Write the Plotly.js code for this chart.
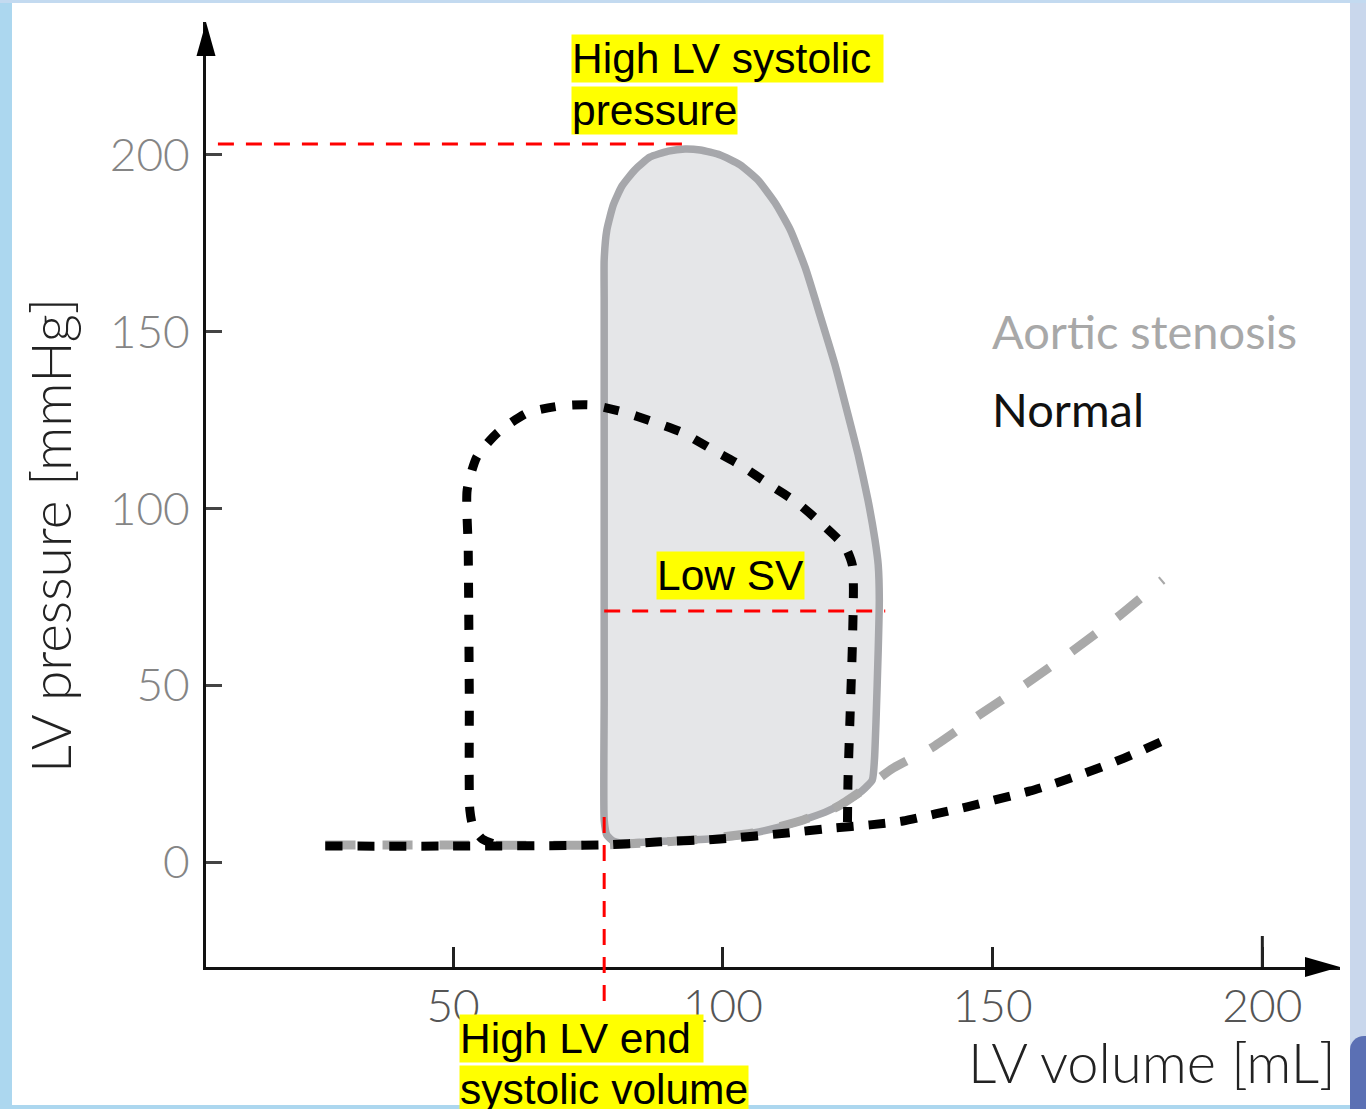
<!DOCTYPE html>
<html><head><meta charset="utf-8">
<script src="https://cdn.plot.ly/plotly-3.0.1.min.js"></script>
<style>
html,body{margin:0;padding:0;width:1366px;height:1109px;overflow:hidden;background:#acd7ef;}
#rightband{position:absolute;left:1350px;top:0;width:16px;height:1109px;background:#c9d7ec;}
#topband{position:absolute;left:0;top:0;width:1366px;height:3px;background:#c3daf0;}
#frame{position:absolute;left:12px;top:3px;width:1338px;height:1102px;background:#ffffff;}
#logo{position:absolute;left:1350px;top:1036px;width:16px;height:73px;background:#5b70b4;border-top-left-radius:14px;}
#chart{position:absolute;left:0;top:0;width:1366px;height:1109px;}
</style></head><body>
<div id="rightband"></div><div id="topband"></div><div id="frame"></div><div id="logo"></div><div id="chart"></div>
<script>
// ---- data (LV volume in mL, LV pressure in mmHg) ----
const xTickValues = [50, 100, 150, 200];
const yTickValues = [0, 50, 100, 150, 200];

// Aortic stenosis pressure-volume loop (grey, filled)
const asLoopVolume = [81.0, 86.5, 93.9, 99.5, 105.6, 110.6, 114.9, 119.0, 122.7, 125.8, 127.7, 128.1, 128.4, 128.8, 129.0, 128.8, 128.2, 126.9, 125.1, 123.2, 120.8, 118.0, 115.3, 112.5, 109.7, 106.5, 103.2, 99.5, 95.8, 93.0, 89.9, 86.5, 83.7, 81.3, 79.7, 78.5, 78.0, 78.0, 78.0, 78.0, 78.0, 78.5, 79.7, 81.0];
const asLoopPressure = [5.4, 5.7, 6.2, 6.8, 8.2, 9.9, 11.9, 14.1, 17.0, 20.1, 23.2, 28.9, 40.2, 60.0, 74.1, 84.0, 91.1, 102.4, 115.1, 126.5, 140.6, 154.7, 168.0, 178.8, 186.4, 192.9, 197.2, 200.0, 201.4, 201.7, 201.1, 199.4, 195.8, 191.2, 185.9, 178.8, 170.3, 159.0, 102.4, 45.8, 11.9, 7.6, 5.9, 5.4];

// Aortic stenosis end-diastolic pressure-volume relation (grey dashed)
const asEdpvrVolume = [26.3, 49.4, 78.0, 93.9, 105.6, 114.9, 121.2, 126.0, 131.6, 138.6, 147.5, 156.4, 165.1, 173.7, 181.5];
const asEdpvrPressure = [4.8, 4.8, 4.8, 6.2, 8.2, 11.9, 15.6, 20.4, 26.6, 32.2, 41.6, 50.6, 60.0, 69.9, 79.8];

// Normal pressure-volume loop (black dashed, open at the filling limb)
const normalLoopVolume = [123.1, 123.2, 123.6, 124.0, 124.2, 124.0, 122.7, 118.6, 113.8, 108.8, 103.2, 98.2, 92.6, 87.1, 81.5, 75.4, 69.8, 63.7, 58.2, 54.4, 52.6, 52.8, 53.0, 53.1, 53.7, 55.4, 58.2];
const normalLoopPressure = [11.3, 23.2, 42.2, 60.8, 77.8, 84.0, 89.1, 95.3, 101.6, 106.6, 112.3, 116.5, 121.4, 124.5, 127.3, 129.3, 129.0, 127.0, 121.4, 114.6, 105.2, 88.3, 45.8, 14.7, 9.9, 6.5, 4.8];

// Normal end-diastolic pressure-volume relation (black dashed)
const normalEdpvrVolume = [26.3, 49.4, 77.3, 88.4, 99.5, 111.9, 120.5, 127.3, 133.4, 139.4, 145.3, 151.0, 157.0, 162.9, 168.7, 174.4, 181.5];
const normalEdpvrPressure = [4.5, 4.5, 4.8, 5.7, 6.5, 8.2, 9.6, 10.5, 11.6, 13.6, 15.6, 17.8, 20.1, 22.9, 26.0, 29.4, 34.2];

// Red guide lines
const peakGuideVolume = [6.4, 92.6];
const peakGuidePressure = 203.1;
const svGuideVolume = [78.0, 130.1];
const svGuidePressure = 71.0;
const esvGuideVolume = 78.0;
const esvGuidePressure = [12.7, -39.3];

// ---- layout geometry ----
const xRange = [4.19, 214.4];
const yRange = [-29.7, 237.6];
const M = {l: 206, r: 26, t: 22, b: 142};
const FIG_W = 1366, FIG_H = 1109;
const PW = FIG_W - M.l - M.r, PH = FIG_H - M.t - M.b;
const pxX = px => (px - M.l) / PW;
const pxY = py => (M.t + PH - py) / PH;
const dataX = v => (v - xRange[0]) / (xRange[1] - xRange[0]);
const dataY = p => (p - yRange[0]) / (yRange[1] - yRange[0]);

const lato = 'Lato, "Open Sans", sans-serif';
const arial = 'Arial, "Liberation Sans", sans-serif';

const traces = [
  {x: asLoopVolume, y: asLoopPressure, mode: 'lines', fill: 'toself', fillcolor: '#e5e6e8',
   line: {color: '#a6a7ab', width: 7.5, shape: 'spline', smoothing: 0.5}, hoverinfo: 'skip', showlegend: false},
  {x: asEdpvrVolume, y: asEdpvrPressure, mode: 'lines',
   line: {color: '#a9a9a9', width: 9, dash: '30px,27px', shape: 'spline', smoothing: 0.6}, hoverinfo: 'skip', showlegend: false},
  {x: normalLoopVolume, y: normalLoopPressure, mode: 'lines',
   line: {color: '#000000', width: 9, dash: '15px,17px', shape: 'spline', smoothing: 0.6}, hoverinfo: 'skip', showlegend: false},
  {x: normalEdpvrVolume, y: normalEdpvrPressure, mode: 'lines',
   line: {color: '#000000', width: 9, dash: '17px,15px', shape: 'spline', smoothing: 0.6}, hoverinfo: 'skip', showlegend: false}
];

const redDash = {color: '#ff0000', width: 3, dash: '16px,12px'};
const shapes = [
  {type: 'line', xref: 'x', yref: 'y', x0: peakGuideVolume[0], x1: peakGuideVolume[1], y0: peakGuidePressure, y1: peakGuidePressure, line: redDash},
  {type: 'line', xref: 'x', yref: 'y', x0: svGuideVolume[0], x1: svGuideVolume[1], y0: svGuidePressure, y1: svGuidePressure, line: redDash},
  {type: 'line', xref: 'paper', yref: 'paper', x0: dataX(esvGuideVolume), x1: dataX(esvGuideVolume), y0: dataY(esvGuidePressure[0]), y1: dataY(esvGuidePressure[1]), line: redDash},
  // longer tick at the last x tick
  {type: 'line', xref: 'x', yref: 'paper', x0: xTickValues[3], x1: xTickValues[3], y0: 0, y1: 31 / PH, line: {color: '#222', width: 3}},
  // axis arrowheads
  {type: 'path', xref: 'paper', yref: 'paper', fillcolor: '#000', line: {width: 0},
   path: `M 0 1 L ${-9.5 / PW} ${1 - 34 / PH} L ${9.5 / PW} ${1 - 34 / PH} Z`},
  {type: 'path', xref: 'paper', yref: 'paper', fillcolor: '#000', line: {width: 0},
   path: `M 1 0 L ${1 - 35 / PW} ${10 / PH} L ${1 - 35 / PW} ${-10 / PH} Z`}
];

function hl(text, left, top) {
  return {text: text, xref: 'paper', yref: 'paper', x: pxX(left), y: pxY(top), xanchor: 'left', yanchor: 'top',
    showarrow: false, bgcolor: '#ffff00', borderpad: 0, font: {family: arial, size: 42.5, color: '#000'}};
}

const annotations = [
  {text: 'LV pressure [mmHg]', xref: 'paper', yref: 'paper', x: pxX(50), y: pxY(536), xanchor: 'center', yanchor: 'middle',
   textangle: -90, showarrow: false, font: {family: lato, size: 55, color: '#222', weight: 300}},
  {text: 'LV volume [mL]', xref: 'paper', yref: 'paper', x: pxX(1338), y: pxY(1061), xanchor: 'right', yanchor: 'middle',
   showarrow: false, font: {family: lato, size: 56, color: '#222', weight: 300}},
  {text: 'Aortic stenosis', xref: 'paper', yref: 'paper', x: pxX(990), y: pxY(331), xanchor: 'left', yanchor: 'middle',
   showarrow: false, font: {family: lato, size: 47, color: '#a8a8a8'}},
  {text: 'Normal', xref: 'paper', yref: 'paper', x: pxX(990), y: pxY(409), xanchor: 'left', yanchor: 'middle',
   showarrow: false, font: {family: lato, size: 47, color: '#111'}},
  hl('High LV systolic\u00a0', 571, 34),
  hl('pressure', 571, 86),
  hl('Low SV', 656, 551),
  hl('High LV end\u00a0', 459, 1014),
  hl('systolic volume', 459, 1065)
];

const layout = {
  width: FIG_W, height: FIG_H,
  margin: M,
  paper_bgcolor: 'rgba(0,0,0,0)', plot_bgcolor: 'rgba(0,0,0,0)',
  showlegend: false,
  xaxis: {range: xRange, tickvals: xTickValues, ticktext: xTickValues.map(String), ticks: 'inside', ticklen: 20, tickwidth: 3, tickcolor: '#222',
    showline: true, linewidth: 3, linecolor: '#111', showgrid: false, zeroline: false, fixedrange: true,
    tickfont: {family: lato, size: 46, color: '#555', weight: 300}, ticklabelstandoff: -3},
  yaxis: {range: yRange, tickvals: yTickValues, ticktext: yTickValues.map(String), ticks: 'inside', ticklen: 16, tickwidth: 3, tickcolor: '#444',
    showline: true, linewidth: 3, linecolor: '#111', showgrid: false, zeroline: false, fixedrange: true,
    tickfont: {family: lato, size: 46, color: '#858585', weight: 300}, ticklabelstandoff: 4},
  shapes: shapes,
  annotations: annotations
};

Plotly.newPlot('chart', traces, layout, {displayModeBar: false, staticPlot: true});
</script>
</body></html>
